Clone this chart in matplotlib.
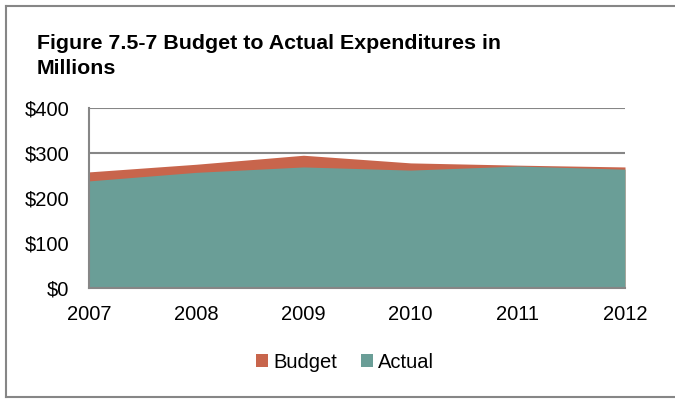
import matplotlib
matplotlib.use("Agg")
import matplotlib.pyplot as plt
from matplotlib.lines import Line2D
from matplotlib.patches import Patch

plt.rcParams['font.family'] = ['Liberation Sans', 'DejaVu Sans']

years = [2007, 2008, 2009, 2010, 2011, 2012]
budget = [258, 275, 295, 278, 273, 269]
actual = [238, 257, 269, 262, 271, 264]
yticks = [0, 100, 200, 300, 400]
ytick_labels = ["$0", "$100", "$200", "$300", "$400"]
title_lines = ["Figure 7.5-7 Budget to Actual Expenditures in", "Millions"]

budget_color = "#C8654C"
actual_color = "#6A9E97"
grid_color = "#868686"

fig = plt.figure(figsize=(6.75, 3.99), dpi=100)
ax = fig.add_axes([89/675, 1-288/399, (625-89)/675, (288-108)/399])

ax.fill_between(years, 0, budget, color=budget_color, linewidth=0, zorder=2)
ax.fill_between(years, 0, actual, color=actual_color, linewidth=0, zorder=3)

ax.set_xlim(years[0], years[-1])
ax.set_ylim(0, 400)
ax.set_yticks(yticks)
ax.set_yticklabels(ytick_labels, fontsize=14.5)
ax.set_xticks(years)
ax.set_xticklabels([str(y) for y in years], fontsize=14.5)
ax.tick_params(length=0)
ax.tick_params(axis='x', pad=12)
ax.tick_params(axis='y', pad=14)
ax.yaxis.grid(True, color=grid_color, linewidth=1.5, zorder=1)
ax.set_axisbelow(True)
for s in ['top', 'right']:
    ax.spines[s].set_visible(False)
for s in ['left', 'bottom']:
    ax.spines[s].set_color(grid_color)
    ax.spines[s].set_linewidth(1.5)
    ax.spines[s].set_zorder(4)

fig.text(37/675, 1-49/399, title_lines[0], fontsize=15.4, fontweight='bold',
         ha='left', va='baseline')
fig.text(37/675, 1-74/399, title_lines[1], fontsize=15.4, fontweight='bold',
         ha='left', va='baseline')

handles = [Patch(facecolor=budget_color, edgecolor='none'),
           Patch(facecolor=actual_color, edgecolor='none')]
fig.legend(handles, ["Budget", "Actual"], loc='center', bbox_to_anchor=(345/675, 1-362/399),
           ncol=2, frameon=False, fontsize=14.5, handlelength=0.6, handleheight=0.6,
           handletextpad=0.25, columnspacing=1.2)

# outer border (left, top, bottom)
fig.add_artist(Line2D([6/675, 6/675], [1-397/399, 1-6/399], color=grid_color, lw=1.5, transform=fig.transFigure))
fig.add_artist(Line2D([6/675, 1], [1-6/399, 1-6/399], color=grid_color, lw=1.5, transform=fig.transFigure))
fig.add_artist(Line2D([6/675, 1], [1-397/399, 1-397/399], color=grid_color, lw=1.5, transform=fig.transFigure))

fig.savefig("out.png", dpi=100)
